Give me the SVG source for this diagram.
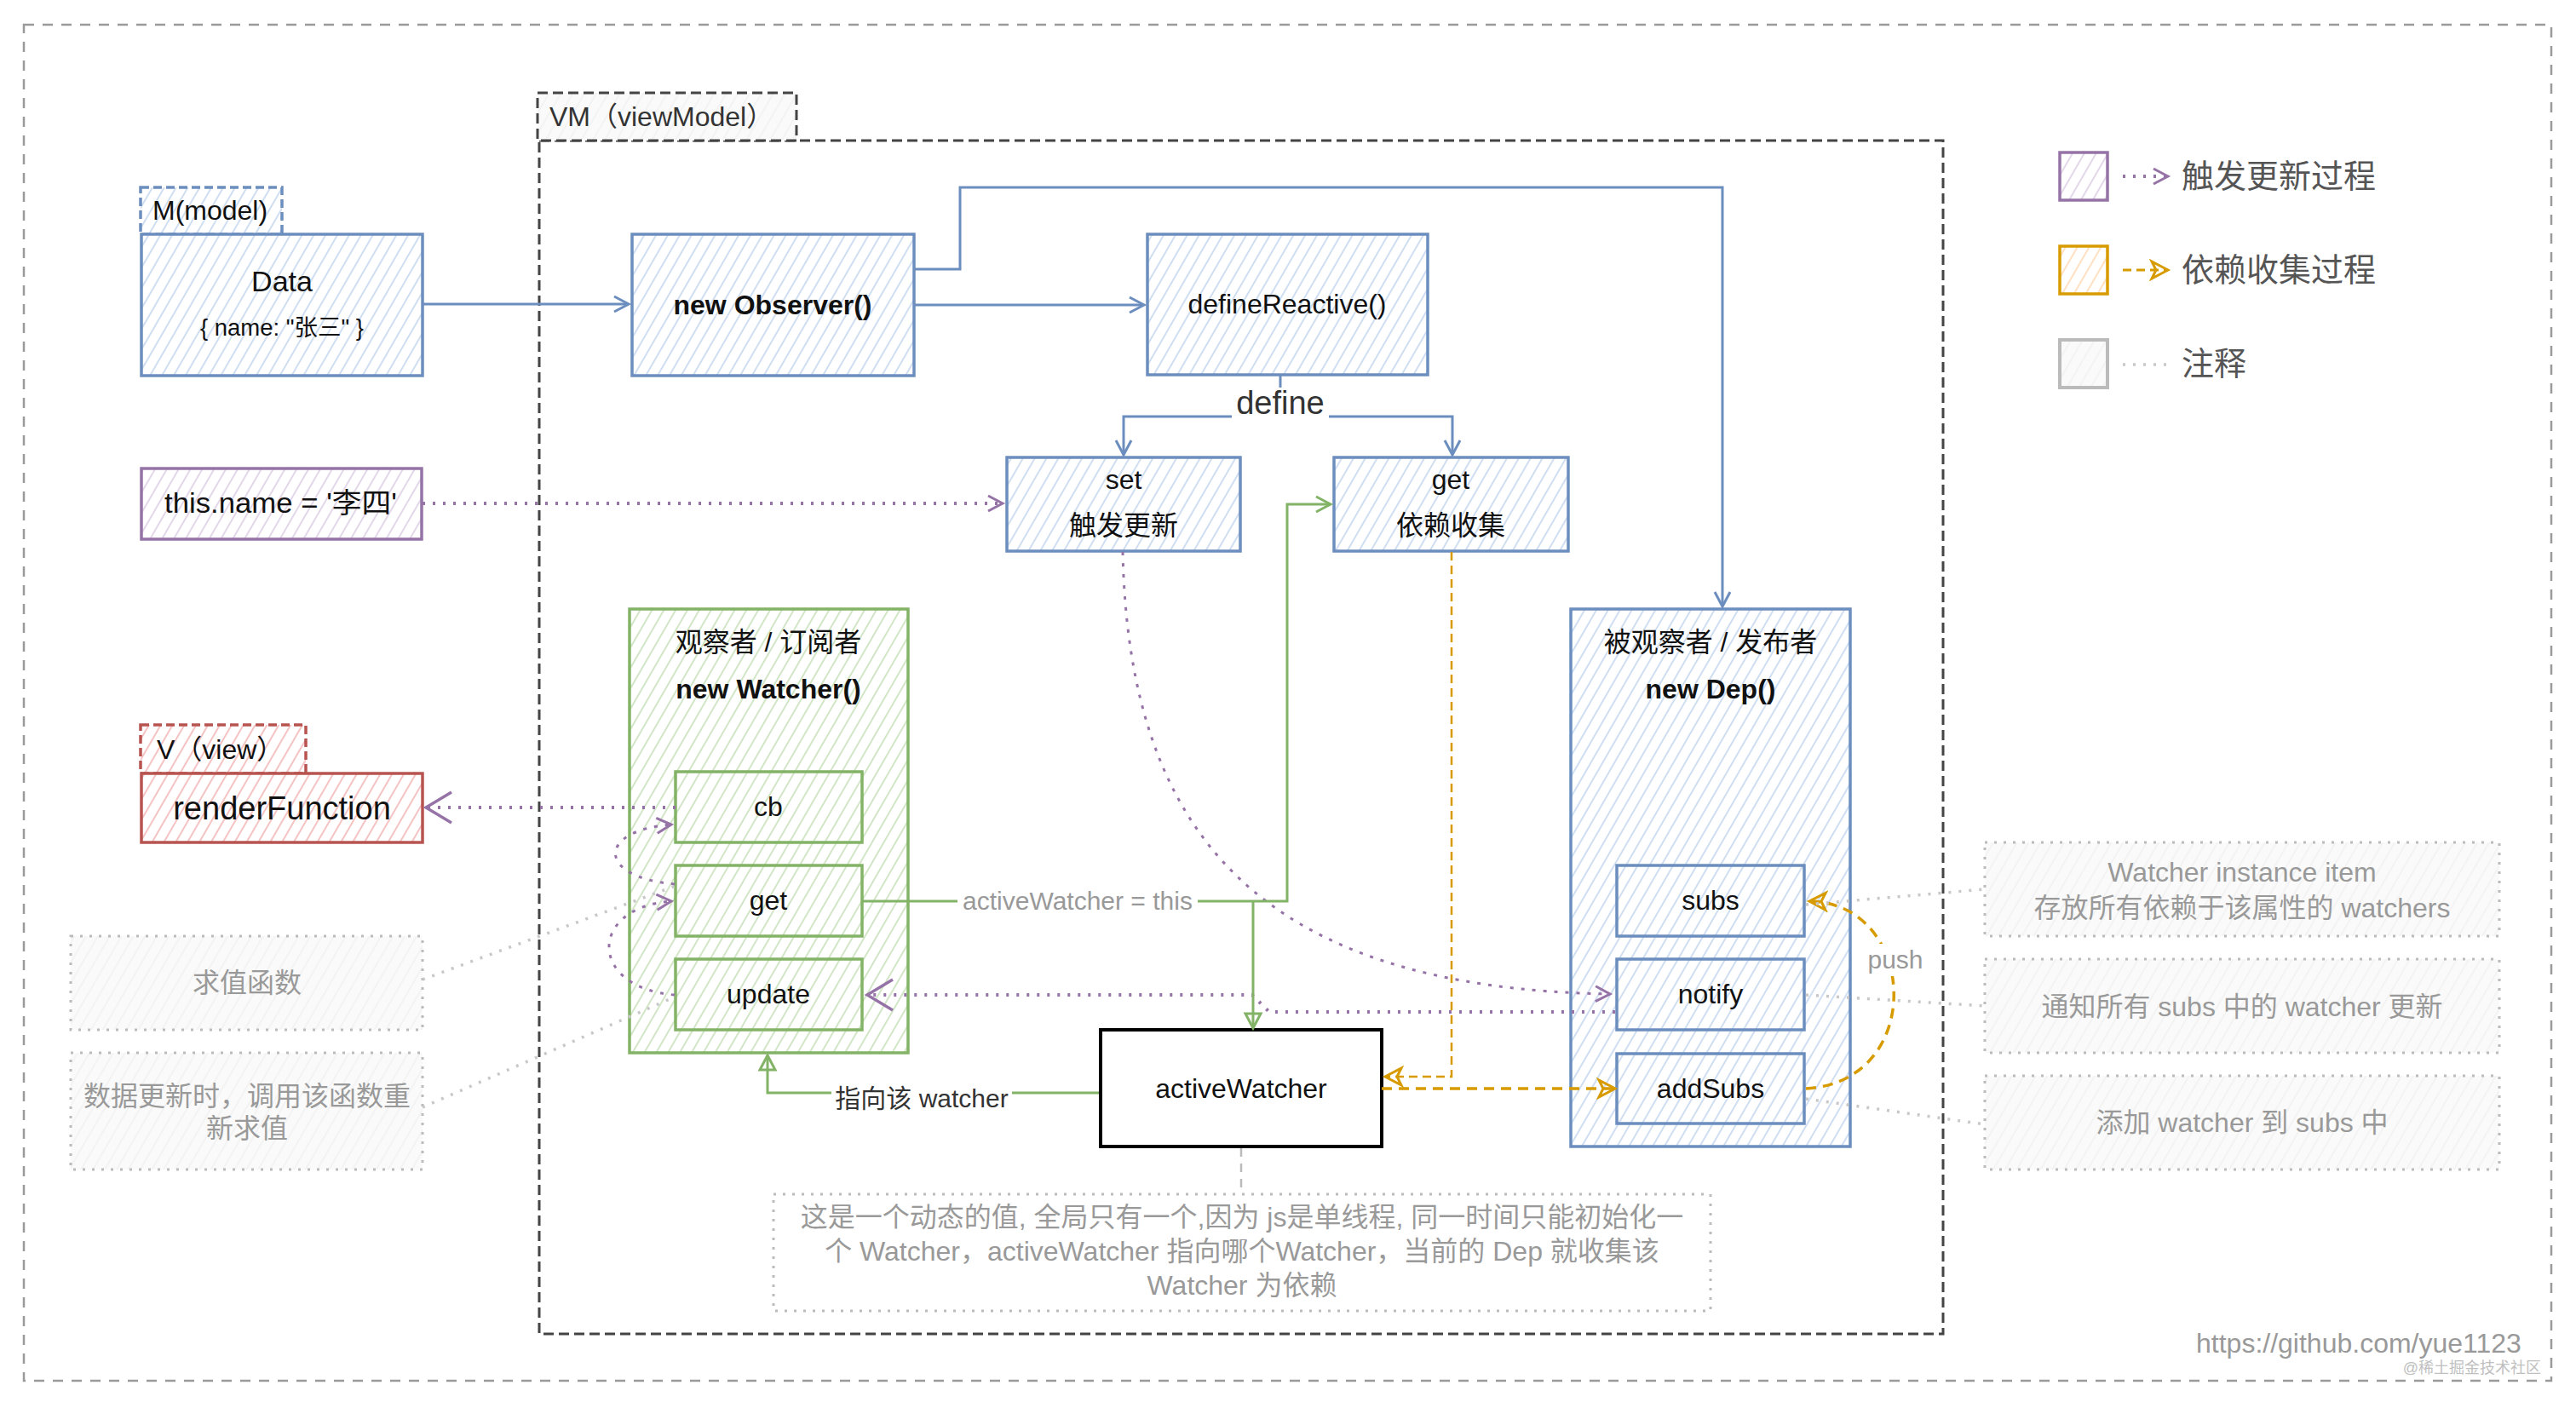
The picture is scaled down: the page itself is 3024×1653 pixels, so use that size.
<svg xmlns="http://www.w3.org/2000/svg" width="3024" height="1653" viewBox="0 0 3024 1653">
<style>
text{font-family:"Liberation Sans","Noto Sans CJK SC",sans-serif;font-size:32px;fill:#111}
.c{text-anchor:middle}
.b{font-weight:bold}
.g{fill:#999}
.dk{fill:#333}
.lg{font-size:38px;fill:#555}
.bl{stroke:#6c8ebf;stroke-width:3.5}
.gr{stroke:#82b366;stroke-width:3.5}
.rd{stroke:#b85450;stroke-width:3.5}
.pu{stroke:#9673a6;stroke-width:3.5}
.ye{stroke:#d79b00;stroke-width:3.5}
.cm{stroke:#bbb;stroke-width:3;stroke-dasharray:3 8;fill:url(#hk)}
.lb{fill:none;stroke:#6c8ebf;stroke-width:3}
.lgn{fill:none;stroke:#82b366;stroke-width:3}
.lpd{fill:none;stroke:#9673a6;stroke-width:4;stroke-dasharray:3 9}
.lpc{fill:none;stroke:#9673a6;stroke-width:3;stroke-dasharray:4 9}
.ly{fill:none;stroke:#d79b00;stroke-width:3.5;stroke-dasharray:12 8}
.lgy{fill:none;stroke:#c8c8c8;stroke-width:3.5;stroke-dasharray:3 9}
</style>
<defs>
<pattern id="hb" width="12" height="12" patternUnits="userSpaceOnUse" patternTransform="rotate(30)"><rect width="12" height="12" fill="#fff"/><line x1="1" y1="0" x2="1" y2="12" stroke="#bcd0ec" stroke-width="1.4"/></pattern>
<pattern id="hg" width="12" height="12" patternUnits="userSpaceOnUse" patternTransform="rotate(30)"><rect width="12" height="12" fill="#fff"/><line x1="1" y1="0" x2="1" y2="12" stroke="#bfdcb0" stroke-width="1.4"/></pattern>
<pattern id="hr" width="12" height="12" patternUnits="userSpaceOnUse" patternTransform="rotate(30)"><rect width="12" height="12" fill="#fff"/><line x1="1" y1="0" x2="1" y2="12" stroke="#f2aaaa" stroke-width="1.4"/></pattern>
<pattern id="hp" width="12" height="12" patternUnits="userSpaceOnUse" patternTransform="rotate(30)"><rect width="12" height="12" fill="#fff"/><line x1="1" y1="0" x2="1" y2="12" stroke="#d8c6e2" stroke-width="1.4"/></pattern>
<pattern id="hy" width="12" height="12" patternUnits="userSpaceOnUse" patternTransform="rotate(30)"><rect width="12" height="12" fill="#fff"/><line x1="1" y1="0" x2="1" y2="12" stroke="#ffd3a8" stroke-width="1.4"/></pattern>
<pattern id="hk" width="12" height="12" patternUnits="userSpaceOnUse" patternTransform="rotate(30)"><rect width="12" height="12" fill="#fafafa"/><line x1="1" y1="0" x2="1" y2="12" stroke="#f0f0f0" stroke-width="1.4"/></pattern>
<marker id="aB" markerUnits="userSpaceOnUse" markerWidth="24" markerHeight="24" refX="20" refY="12" orient="auto"><path d="M3,3 L20,12 L3,21" fill="none" stroke="#6c8ebf" stroke-width="3"/></marker>
<marker id="aP" markerUnits="userSpaceOnUse" markerWidth="24" markerHeight="24" refX="20" refY="12" orient="auto"><path d="M3,3 L20,12 L3,21" fill="none" stroke="#9673a6" stroke-width="3"/></marker>
<marker id="aPL" markerUnits="userSpaceOnUse" markerWidth="40" markerHeight="40" refX="34" refY="20" orient="auto"><path d="M4,2 L34,20 L4,38" fill="none" stroke="#9673a6" stroke-width="3.5"/></marker>
<marker id="aG" markerUnits="userSpaceOnUse" markerWidth="24" markerHeight="24" refX="20" refY="12" orient="auto"><path d="M3,3 L20,12 L3,21 Z" fill="none" stroke="#82b366" stroke-width="3"/></marker>
<marker id="aGc" markerUnits="userSpaceOnUse" markerWidth="24" markerHeight="24" refX="20" refY="12" orient="auto"><path d="M3,3 L20,12 L3,21" fill="none" stroke="#82b366" stroke-width="3"/></marker>
<marker id="aY" markerUnits="userSpaceOnUse" markerWidth="26" markerHeight="26" refX="22" refY="13" orient="auto"><path d="M3,3 L22,13 L3,23 L8,13 Z" fill="none" stroke="#d79b00" stroke-width="3"/></marker>
</defs>

<rect x="28" y="29" width="2967" height="1592" fill="none" stroke="#9a9a9a" stroke-width="2.5" stroke-dasharray="12 10"/>

<g id="vm">
<rect x="633" y="165" width="1648" height="1401" fill="none" stroke="#444" stroke-width="3" stroke-dasharray="12 6"/>
<rect x="631" y="109" width="304" height="56" fill="url(#hk)" stroke="#444" stroke-width="3" stroke-dasharray="12 6"/>
<text x="645" y="148" class="dk">VM（viewModel）</text>
</g>

<g id="legend">
<rect x="2418" y="179" width="56" height="56" fill="url(#hp)" class="pu" stroke-width="4"/>
<path d="M2492,207 H2545" class="lpd" stroke-width="3" marker-end="url(#aP)"/>
<text x="2561" y="220" class="lg">触发更新过程</text>
<rect x="2418" y="289" width="56" height="56" fill="url(#hy)" class="ye" stroke-width="4"/>
<path d="M2492,317 H2545" fill="none" stroke="#d79b00" stroke-width="3" stroke-dasharray="10 6" marker-end="url(#aY)"/>
<text x="2561" y="330" class="lg">依赖收集过程</text>
<rect x="2418" y="399" width="56" height="56" fill="url(#hk)" stroke="#bbb" stroke-width="4"/>
<path d="M2492,428 H2549" class="lgy" stroke-width="3"/>
<text x="2561" y="440" class="lg">注释</text>
</g>

<g id="model">
<rect x="165" y="220" width="166" height="55" fill="url(#hb)" class="bl" stroke-dasharray="10 5"/>
<text x="179" y="258">M(model)</text>
<rect x="166" y="275" width="330" height="166" fill="url(#hb)" class="bl"/>
<text x="331" y="342" class="c" style="font-size:34px">Data</text>
<text x="331" y="394" class="c" style="font-size:27px" textLength="192" lengthAdjust="spacingAndGlyphs">{ name: "张三" }</text>
</g>

<g id="thisname">
<rect x="166" y="550" width="329" height="83" fill="url(#hp)" class="pu"/>
<text x="193" y="602" style="font-size:33px" textLength="273" lengthAdjust="spacingAndGlyphs">this.name = '李四'</text>
</g>

<g id="observer">
<rect x="742" y="275" width="331" height="166" fill="url(#hb)" class="bl"/>
<text x="907" y="369" class="c b">new Observer()</text>
</g>

<g id="definereactive">
<rect x="1347" y="275" width="329" height="165" fill="url(#hb)" class="bl"/>
<text x="1511" y="368" class="c">defineReactive()</text>
</g>

<g id="set">
<rect x="1182" y="537" width="274" height="110" fill="url(#hb)" class="bl"/>
<text x="1319" y="574" class="c">set</text>
<text x="1319" y="628" class="c">触发更新</text>
</g>

<g id="get">
<rect x="1566" y="537" width="275" height="110" fill="url(#hb)" class="bl"/>
<text x="1703" y="574" class="c">get</text>
<text x="1703" y="628" class="c">依赖收集</text>
</g>

<g id="view">
<rect x="165" y="851" width="194" height="57" fill="url(#hr)" class="rd" stroke-dasharray="10 5"/>
<text x="184" y="891">V（view）</text>
<rect x="166" y="908" width="330" height="81" fill="url(#hr)" class="rd"/>
<text x="331" y="962" class="c" style="font-size:38px">renderFunction</text>
</g>

<g id="watcher">
<rect x="739" y="715" width="327" height="521" fill="url(#hg)" class="gr"/>
<text x="902" y="765" class="c">观察者 / 订阅者</text>
<text x="902" y="820" class="c b">new Watcher()</text>
<rect x="793" y="906" width="219" height="83" fill="url(#hg)" class="gr"/>
<text x="902" y="958" class="c">cb</text>
<rect x="793" y="1016" width="219" height="83" fill="url(#hg)" class="gr"/>
<text x="902" y="1068" class="c">get</text>
<rect x="793" y="1126" width="219" height="83" fill="url(#hg)" class="gr"/>
<text x="902" y="1178" class="c">update</text>
</g>

<g id="dep">
<rect x="1844" y="715" width="328" height="631" fill="url(#hb)" class="bl"/>
<text x="2008" y="765" class="c">被观察者 / 发布者</text>
<text x="2008" y="820" class="c b">new Dep()</text>
<rect x="1898" y="1016" width="220" height="83" fill="url(#hb)" class="bl"/>
<text x="2008" y="1068" class="c">subs</text>
<rect x="1898" y="1126" width="220" height="83" fill="url(#hb)" class="bl"/>
<text x="2008" y="1178" class="c">notify</text>
<rect x="1898" y="1237" width="220" height="82" fill="url(#hb)" class="bl"/>
<text x="2008" y="1289" class="c">addSubs</text>
</g>

<g id="activewatcher">
<rect x="1292" y="1209" width="330" height="137" fill="#fff" stroke="#000" stroke-width="4"/>
<text x="1457" y="1289" class="c">activeWatcher</text>
</g>

<g id="note-active">
<rect x="908" y="1402" width="1100" height="137" class="cm" style="fill:#fff"/>
<text x="1458" y="1440" class="c g">这是一个动态的值, 全局只有一个,因为 js是单线程, 同一时间只能初始化一</text>
<text x="1458" y="1480" class="c g">个 Watcher，activeWatcher 指向哪个Watcher，当前的 Dep 就收集该</text>
<text x="1458" y="1520" class="c g">Watcher 为依赖</text>
</g>

<g id="note-get">
<rect x="83" y="1099" width="413" height="110" class="cm"/>
<text x="290" y="1165" class="c g">求值函数</text>
</g>

<g id="note-update">
<rect x="83" y="1236" width="413" height="137" class="cm"/>
<text x="290" y="1298" class="c g">数据更新时，调用该函数重</text>
<text x="290" y="1336" class="c g">新求值</text>
</g>

<g id="note-subs">
<rect x="2330" y="989" width="604" height="110" class="cm"/>
<text x="2632" y="1035" class="c g">Watcher instance item</text>
<text x="2632" y="1077" class="c g">存放所有依赖于该属性的 watchers</text>
</g>

<g id="note-notify">
<rect x="2330" y="1126" width="604" height="110" class="cm"/>
<text x="2632" y="1193" class="c g">通知所有 subs 中的 watcher 更新</text>
</g>

<g id="note-addsubs">
<rect x="2330" y="1263" width="604" height="110" class="cm"/>
<text x="2632" y="1329" class="c g">添加 watcher 到 subs 中</text>
</g>

<g id="connectors">
<path d="M496,357 H738" class="lb" marker-end="url(#aB)"/>
<path d="M1073,358 H1343" class="lb" marker-end="url(#aB)"/>
<path d="M1073,316 H1127 V220 H2022 V712" class="lb" marker-end="url(#aB)"/>
<path d="M1503,440 V489 H1319 V534" class="lb" marker-end="url(#aB)"/>
<path d="M1503,489 H1705 V534" class="lb" marker-end="url(#aB)"/>
<rect x="1446" y="455" width="114" height="42" fill="#fff"/>
<text x="1503" y="486" class="c dk" style="font-size:38px">define</text>

<path d="M496,591 H1177" class="lpd" marker-end="url(#aP)"/>
<path d="M1318,648 C1325,980 1480,1160 1890,1167" class="lpc" marker-end="url(#aP)"/>
<path d="M793,948 H500" class="lpd" marker-end="url(#aPL)"/>
<path d="M792,1038 C700,1030 700,975 788,968" class="lpc" marker-end="url(#aP)"/>
<path d="M792,1168 C690,1160 690,1065 788,1058" class="lpc" marker-end="url(#aP)"/>
<path d="M1896,1188 H1490 L1470,1168 H1018" class="lpd" marker-end="url(#aPL)"/>

<path d="M1012,1058 H1511 V592 H1562" class="lgn" marker-end="url(#aGc)"/>
<path d="M1471,1058 V1207" class="lgn" marker-end="url(#aG)"/>
<rect x="1124" y="1036" width="282" height="42" fill="#fff"/>
<text x="1265" y="1068" class="c g" style="font-size:30px">activeWatcher = this</text>
<path d="M1290,1283 H901 V1239" class="lgn" marker-end="url(#aG)"/>
<rect x="976" y="1266" width="212" height="46" fill="#fff"/>
<text x="1082" y="1300" class="c dk" style="font-size:30px">指向该 watcher</text>

<path d="M1704,648 V1264 H1626" fill="none" stroke="#d79b00" stroke-width="2.5" stroke-dasharray="10 6" marker-end="url(#aY)"/>
<path d="M1622,1278 H1896" class="ly" marker-end="url(#aY)"/>
<path d="M2120,1278 C2262,1270 2252,1060 2124,1058" class="ly" stroke-width="3" marker-end="url(#aY)"/>
<rect x="2190" y="1108" width="70" height="38" fill="#fff"/>
<text x="2225" y="1137" class="c g" style="font-size:30px">push</text>

<path d="M496,1150 L793,1040" class="lgy"/>
<path d="M496,1300 L793,1170" class="lgy"/>
<path d="M2120,1062 L2330,1044" class="lgy"/>
<path d="M2120,1168 L2330,1181" class="lgy"/>
<path d="M2120,1290 L2330,1320" class="lgy"/>
<path d="M1457,1348 V1400" fill="none" stroke="#bbb" stroke-width="2.5" stroke-dasharray="10 8"/>
</g>

<text x="2578" y="1588" class="g">https://github.com/yue1123</text>
<text x="2983" y="1612" text-anchor="end" style="fill:#c0c0c0;font-size:18px">@稀土掘金技术社区</text>
</svg>
